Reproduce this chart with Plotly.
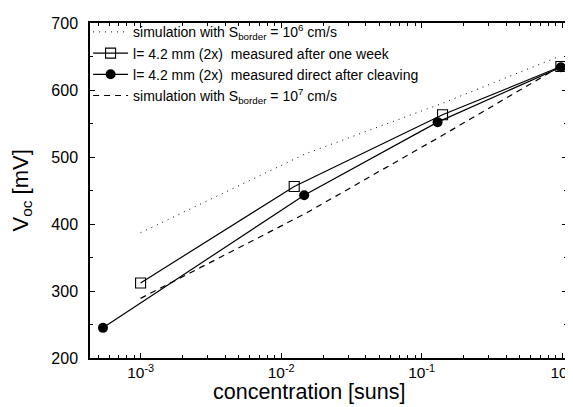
import plotly.graph_objects as go

# simulation with S_border = 1e6 cm/s
sim6_x = [1e-3, 0.015, 0.14, 0.95]
sim6_y = [387, 505, 580, 650]

# measured after one week (open squares)
week_x = [1e-3, 0.0124, 0.141, 0.98]
week_y = [312, 456, 563, 635]

# measured direct after cleaving (filled circles)
direct_x = [5.4e-4, 0.0146, 0.130, 0.98]
direct_y = [245, 443, 552, 634]

# simulation with S_border = 1e7 cm/s
sim7_x = [1e-3, 0.015, 0.14, 0.95]
sim7_y = [289, 416, 532, 634]

x_tickvals = [1e-3, 1e-2, 1e-1, 1]
x_ticktext = ["10<sup>-3</sup>", "10<sup>-2</sup>", "10<sup>-1</sup>", "10<sup>0</sup>"]
y_tickvals = [200, 300, 400, 500, 600, 700]

FONT = "Liberation Sans, Arial, sans-serif"
SP = "\u00a0"

fig = go.Figure()
fig.add_trace(go.Scatter(
    x=sim6_x, y=sim6_y, mode="lines",
    line=dict(color="black", width=1, dash="1px,5px"),
    name="simulation with S<sub>border</sub> = 10<sup>6</sup> cm/s"))
fig.add_trace(go.Scatter(
    x=week_x, y=week_y, mode="lines+markers",
    line=dict(color="black", width=1.2),
    marker=dict(symbol="square-open", size=10, color="black", line=dict(width=1.1)),
    name="l= 4.2 mm (2x)" + SP + " measured after one week"))
fig.add_trace(go.Scatter(
    x=direct_x, y=direct_y, mode="lines+markers",
    line=dict(color="black", width=1.2),
    marker=dict(symbol="circle", size=10, color="black"),
    name="l= 4.2 mm (2x)" + SP + " measured direct after cleaving"))
fig.add_trace(go.Scatter(
    x=sim7_x, y=sim7_y, mode="lines",
    line=dict(color="black", width=1.2, dash="6px,5px"),
    name="simulation with S<sub>border</sub> = 10<sup>7</sup> cm/s"))

axis_common = dict(
    showline=True, linecolor="black", linewidth=1.5, mirror="allticks",
    ticks="inside", ticklen=5, tickwidth=1.2, tickcolor="black",
    showgrid=False, zeroline=False,
)

fig.update_xaxes(
    type="log", range=[-3.36, 0.035],
    tickmode="array", tickvals=x_tickvals, ticktext=x_ticktext,
    tickfont=dict(family=FONT, size=15.5, color="black"),
    minor=dict(ticks="inside", ticklen=3, tickwidth=1, tickcolor="black", dtick="D1"),
    **axis_common)
fig.update_yaxes(
    range=[200, 700],
    tickmode="array", tickvals=y_tickvals,
    tickfont=dict(family=FONT, size=16, color="black"),
    ticklabelstandoff=7,
    minor=dict(ticks="inside", ticklen=3, tickwidth=1, tickcolor="black", dtick=50),
    **axis_common)

fig.add_annotation(
    text="concentration [suns]", xref="paper", yref="paper",
    x=(304.5 - 82) / 484, y=(350 - 384) / 336.5, xanchor="center", yanchor="middle",
    showarrow=False, font=dict(family=FONT, size=21.5, color="black"))
fig.add_annotation(
    text="V<sub>oc</sub> [mV]", xref="paper", yref="paper",
    x=(12 - 82) / 484, y=0.5, xanchor="center", yanchor="middle", textangle=-90,
    showarrow=False, font=dict(family=FONT, size=22, color="black"))

fig.update_layout(
    width=573, height=407,
    margin=dict(l=82, r=7, t=13, b=57),
    paper_bgcolor="white", plot_bgcolor="white",
    font=dict(family=FONT, color="black"),
    legend=dict(x=-0.004, y=1.02, xanchor="left", yanchor="top",
                bgcolor="rgba(0,0,0,0)", font=dict(family=FONT, size=14, color="black"),
                itemwidth=35, tracegroupgap=0),
    showlegend=True,
)

fig.write_html("out.html")
